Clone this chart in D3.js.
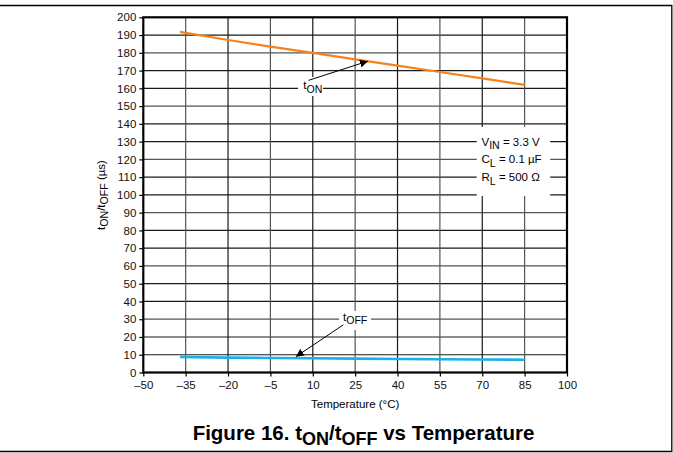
<!DOCTYPE html>
<html>
<head>
<meta charset="utf-8">
<script src="https://cdnjs.cloudflare.com/ajax/libs/d3/7.8.5/d3.min.js"></script>
<style>
  body { margin: 0; background: #fff; }
  svg { display: block; font-family: "Liberation Sans", Arial, sans-serif; }
</style>
</head>
<body>
<div class="chart"></div>
<script>
// data
var temps = [-37, -20, -5, 10, 25, 40, 55, 70, 85];
var t_on = [191.8, 187.2, 183.5, 180, 176.3, 172.8, 169.2, 165.6, 162];
var t_off = [8.7, 8.4, 8.2, 8.0, 7.8, 7.6, 7.5, 7.3, 7.2];
var x_ticks = [-50, -35, -20, -5, 10, 25, 40, 55, 70, 85, 100];
var y_ticks = d3.range(0, 201, 10);
var conditions = [
  ["V", "IN", " = 3.3 V"],
  ["C", "L", " = 0.1 \u00b5F"],
  ["R", "L", " = 500 \u03a9"]
];

function render_chart() {
  var width = 673,
    height = 453;
  var margin = { top: 17.3, right: 106, bottom: 80.5, left: 143.3 };
  var w = width - margin.left - margin.right,
    h = height - margin.top - margin.bottom;

  var svg = d3
    .select(".chart")
    .append("svg")
    .attr("width", width)
    .attr("height", height);

  // page frame (top, right, bottom)
  svg
    .append("path")
    .attr("d", "M0,5.5H671.8V451.5H0")
    .style("fill", "none")
    .style("stroke", "#000")
    .style("stroke-width", 1.3);

  var translate = "translate(" + margin.left + "," + margin.top + ")";
  var g = svg.append("g").attr("transform", translate);

  var x = d3.scaleLinear().domain([-50, 100]).range([0, w]);
  var y = d3.scaleLinear().domain([0, 200]).range([h, 0]);

  // grid
  g.selectAll(".hgrid")
    .data(y_ticks.slice(1, -1))
    .enter()
    .append("line")
    .attr("x1", 0)
    .attr("x2", w)
    .attr("y1", function (d) { return y(d); })
    .attr("y2", function (d) { return y(d); })
    .style("stroke", function (d, i) { return i % 3 === 2 ? "#555" : "#1a1a1a"; })
    .style("stroke-width", 1.2);
  g.selectAll(".vgrid")
    .data(x_ticks.slice(1, -1))
    .enter()
    .append("line")
    .attr("y1", 0)
    .attr("y2", h)
    .attr("x1", function (d) { return x(d); })
    .attr("x2", function (d) { return x(d); })
    .style("stroke", function (d, i) { return i % 2 === 0 ? "#555" : "#1a1a1a"; })
    .style("stroke-width", 1.2);

  // axes
  var yAxis = d3.axisLeft(y).tickValues(y_ticks).tickSize(4).tickPadding(3);
  var xAxis = d3
    .axisBottom(x)
    .tickValues(x_ticks)
    .tickSize(4)
    .tickPadding(4)
    .tickFormat(function (d) { return String(d).replace("-", "\u2013"); });

  g.append("g").attr("class", "axis").call(yAxis);
  g.append("g").attr("class", "axis").attr("transform", "translate(0," + h + ")").call(xAxis);
  g.selectAll(".axis .domain").remove();
  g.selectAll(".axis line").style("stroke", "#000").style("stroke-width", 1.2);
  g.selectAll(".axis text")
    .style("font-size", "11.5px")
    .style("fill", "#111")
    .style("font-family", "'Liberation Sans', Arial, sans-serif");

  // white patches behind the annotations
  var patches = [
    [298, 77, 25, 19],
    [339, 311, 32, 19],
    [476.7, 127, 73.5, 69]
  ];
  svg.selectAll(".patch")
    .data(patches)
    .enter()
    .append("rect")
    .attr("x", function (d) { return d[0]; })
    .attr("y", function (d) { return d[1]; })
    .attr("width", function (d) { return d[2]; })
    .attr("height", function (d) { return d[3]; })
    .style("fill", "#fff");

  // top layer
  var top = svg.append("g").attr("transform", translate);

  top.append("rect")
    .attr("width", w)
    .attr("height", h)
    .style("fill", "none")
    .style("stroke", "#000")
    .style("stroke-width", 2.2);

  var line = d3
    .line()
    .x(function (d) { return x(d[0]); })
    .y(function (d) { return y(d[1]); });

  top.append("path")
    .datum(d3.zip(temps, t_off))
    .attr("d", line)
    .style("fill", "none")
    .style("stroke", "#1ab0e8")
    .style("stroke-width", 2.6);
  top.append("path")
    .datum(d3.zip(temps, t_on))
    .attr("d", line)
    .style("fill", "none")
    .style("stroke", "#f5821f")
    .style("stroke-width", 2.2);

  // arrows
  svg.append("defs")
    .append("marker")
    .attr("id", "arrow")
    .attr("viewBox", "0 0 10 10")
    .attr("refX", 10)
    .attr("refY", 5)
    .attr("markerWidth", 8)
    .attr("markerHeight", 8)
    .attr("markerUnits", "userSpaceOnUse")
    .attr("orient", "auto")
    .append("path")
    .attr("d", "M0,0L10,5L0,10Z")
    .style("fill", "#000");

  var arrows = [
    [8.5, 164.5, 29.5, 175.3],
    [20.8, 26.8, 4.0, 8.9]
  ];
  top.selectAll(".arrow")
    .data(arrows)
    .enter()
    .append("line")
    .attr("x1", function (d) { return x(d[0]); })
    .attr("y1", function (d) { return y(d[1]); })
    .attr("x2", function (d) { return x(d[2]); })
    .attr("y2", function (d) { return y(d[3]); })
    .style("stroke", "#000")
    .style("stroke-width", 1)
    .attr("marker-end", "url(#arrow)");

  function sub_label(sel, base, sub, rest, size) {
    sel.append("tspan").text(base);
    sel.append("tspan").attr("dy", size * 0.3).style("font-size", size * 0.92 + "px").text(sub);
    if (rest) sel.append("tspan").attr("dy", -size * 0.3).text(rest);
  }

  var on_label = top.append("text")
    .attr("x", x(10))
    .attr("y", y(160) + 1)
    .attr("text-anchor", "middle")
    .style("font-size", "11.5px");
  sub_label(on_label, "t", "ON", null, 11.5);

  var off_label = top.append("text")
    .attr("x", x(25))
    .attr("y", y(30) + 1.5)
    .attr("text-anchor", "middle")
    .style("font-size", "11.5px");
  sub_label(off_label, "t", "OFF", null, 11.5);

  top.selectAll(".cond")
    .data(conditions)
    .enter()
    .append("text")
    .attr("x", 481.5 - margin.left)
    .attr("y", function (d, i) { return y(130 - i * 10) + 4; })
    .style("font-size", "11.5px")
    .each(function (d) { sub_label(d3.select(this), d[0], d[1], d[2], 11.5); });

  // axis titles
  var ytitle = svg.append("text")
    .attr("transform", "translate(105,195) rotate(-90)")
    .attr("text-anchor", "middle")
    .style("font-size", "11.5px");
  sub_label(ytitle, "t", "ON", "/t", 11.5);
  ytitle.append("tspan").attr("dy", 11.5 * 0.3).style("font-size", "10.6px").text("OFF");
  ytitle.append("tspan").attr("dy", -11.5 * 0.3).text(" (\u00b5s)");

  svg.append("text")
    .attr("x", x(25) + margin.left)
    .attr("y", 408)
    .attr("text-anchor", "middle")
    .style("font-size", "11.5px")
    .text("Temperature (\u00b0C)");

  var title = svg.append("text")
    .attr("x", 363.5)
    .attr("y", 440)
    .attr("text-anchor", "middle")
    .style("font-size", "20.5px")
    .style("font-weight", "bold");
  title.append("tspan").text("Figure 16. t");
  title.append("tspan").attr("dy", 4.5).style("font-size", "18px").text("ON");
  title.append("tspan").attr("dy", -4.5).text("/t");
  title.append("tspan").attr("dy", 4.5).style("font-size", "18px").text("OFF");
  title.append("tspan").attr("dy", -4.5).text(" vs Temperature");
}

render_chart();
</script>
</body>
</html>
